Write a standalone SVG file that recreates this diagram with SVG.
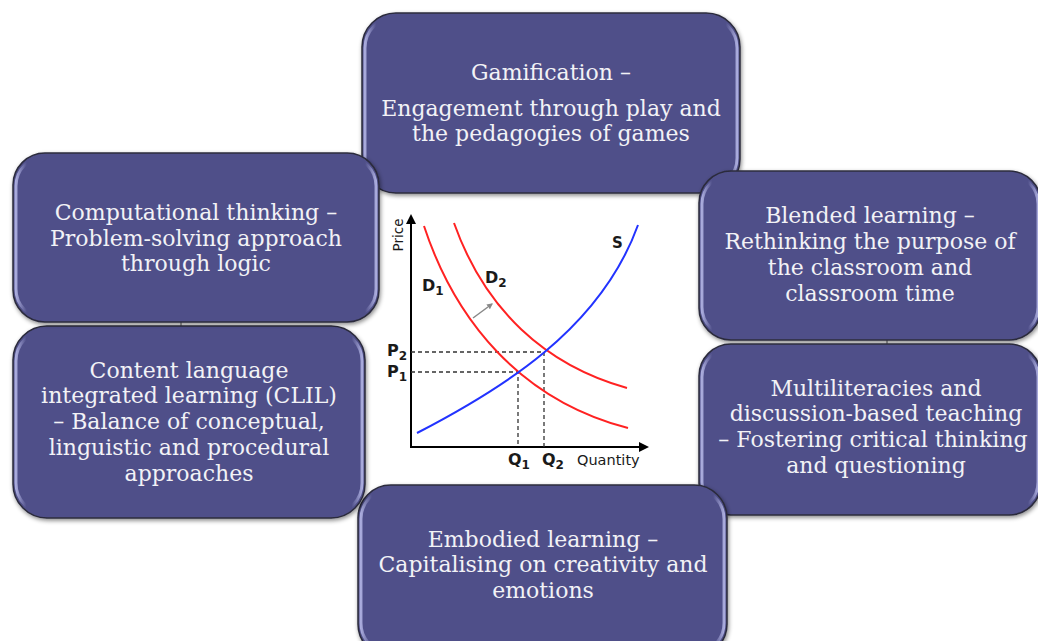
<svg xmlns="http://www.w3.org/2000/svg" width="1038" height="641" viewBox="0 0 1038 641">
<style>
.box{fill:#505089;stroke:#2b2b3c;stroke-width:1.5}
.bevel{fill:none;stroke:url(#bev);stroke-width:3}
.t{font-family:"DejaVu Serif","Liberation Serif",serif;font-size:22px;fill:#f2f2f6;text-anchor:middle}
.c{font-family:"DejaVu Sans","Liberation Sans",sans-serif;fill:#1a1a1a}
.ax{stroke:#000;stroke-width:2;fill:none}
.dash{stroke:#333;stroke-width:1.3;stroke-dasharray:4,3;fill:none}
.red{stroke:#f22;stroke-width:2;fill:none}
.blue{stroke:#2233ff;stroke-width:2;fill:none}
.conn{stroke:#555;stroke-width:1}
</style>
<defs>
<filter id="sh" x="-5%" y="-5%" width="112%" height="115%">
<feDropShadow dx="1" dy="2" stdDeviation="2" flood-color="#000" flood-opacity="0.45"/>
</filter>
<linearGradient id="bev" x1="0" y1="0" x2="1" y2="0">
<stop offset="0" stop-color="#b4b6e6" stop-opacity="0.9"/>
<stop offset="0.03" stop-color="#b4b6e6" stop-opacity="0"/>
<stop offset="0.97" stop-color="#b4b6e6" stop-opacity="0"/>
<stop offset="1" stop-color="#b4b6e6" stop-opacity="0.9"/>
</linearGradient>
<marker id="ah" viewBox="0 0 10 10" refX="8" refY="5" markerWidth="5" markerHeight="5" orient="auto">
<path d="M0,0 L10,5 L0,10 z" fill="#000"/>
</marker>
<marker id="gh" viewBox="0 0 10 10" refX="8" refY="5" markerWidth="4" markerHeight="4" orient="auto">
<path d="M0,0 L10,5 L0,10 z" fill="#888"/>
</marker>
</defs>
<rect width="1038" height="641" fill="#fff"/>

<g id="connectors">
<line class="conn" x1="181" y1="321" x2="181" y2="327"/>
<line class="conn" x1="887" y1="339" x2="887" y2="345"/>
</g>

<g id="chart">
<line class="ax" x1="411" y1="447" x2="411" y2="216" marker-end="url(#ah)"/>
<line class="ax" x1="410" y1="447" x2="647" y2="447" marker-end="url(#ah)"/>
<path class="dash" d="M411,352 H544 V447 M411,372 H518 V447"/>
<path class="red" d="M424,226 C455,320 520,400 628,428"/>
<path class="red" d="M454,223 C485,310 545,365 627,388"/>
<path class="blue" d="M417,433 C500,390 600,330 638,225"/>
<line x1="473" y1="318" x2="492" y2="304" stroke="#888" stroke-width="1.5" marker-end="url(#gh)"/>
<text class="c" font-size="13.5" transform="translate(403,235) rotate(-90)" text-anchor="middle" fill="#333">Price</text>
<text class="c" font-size="15" x="612" y="248" font-weight="600">S</text>
<text class="c" font-size="16" x="422" y="291" font-weight="600">D<tspan font-size="12" dy="4">1</tspan></text>
<text class="c" font-size="16" x="485" y="283" font-weight="600">D<tspan font-size="12" dy="4">2</tspan></text>
<text class="c" font-size="16" x="387" y="356" font-weight="600">P<tspan font-size="12" dy="4">2</tspan></text>
<text class="c" font-size="16" x="387" y="377" font-weight="600">P<tspan font-size="12" dy="4">1</tspan></text>
<text class="c" font-size="16" x="508" y="465" font-weight="600">Q<tspan font-size="12" dy="4">1</tspan></text>
<text class="c" font-size="16" x="542" y="465" font-weight="600">Q<tspan font-size="12" dy="4">2</tspan></text>
<text class="c" font-size="14.5" x="577" y="465" fill="#333">Quantity</text>
</g>

<g id="gamification">
<rect class="box" filter="url(#sh)" x="362" y="13" width="378" height="180" rx="34"/>
<rect class="bevel" x="365" y="17" width="372" height="172" rx="31"/>
<text class="t" x="551" y="80">Gamification –</text>
<text class="t" x="551" y="116">Engagement through play and</text>
<text class="t" x="551" y="141">the pedagogies of games</text>
</g>

<g id="blended">
<rect class="box" filter="url(#sh)" x="699" y="171" width="342" height="169" rx="32"/>
<rect class="bevel" x="702" y="175" width="336" height="161" rx="29"/>
<text class="t" x="870" y="223">Blended learning –</text>
<text class="t" x="870" y="249">Rethinking the purpose of</text>
<text class="t" x="870" y="275">the classroom and</text>
<text class="t" x="870" y="301">classroom time</text>
</g>

<g id="multiliteracies">
<rect class="box" filter="url(#sh)" x="699" y="344" width="342" height="171" rx="32"/>
<rect class="bevel" x="702" y="348" width="336" height="163" rx="29"/>
<text class="t" x="876" y="396">Multiliteracies and</text>
<text class="t" x="876" y="421">discussion-based teaching</text>
<text class="t" x="873" y="447">– Fostering critical thinking</text>
<text class="t" x="876" y="473">and questioning</text>
</g>

<g id="embodied">
<rect class="box" filter="url(#sh)" x="358" y="485" width="369" height="172" rx="33"/>
<rect class="bevel" x="361" y="489" width="363" height="164" rx="30"/>
<text class="t" x="543" y="547">Embodied learning –</text>
<text class="t" x="543" y="572">Capitalising on creativity and</text>
<text class="t" x="543" y="598">emotions</text>
</g>

<g id="clil">
<rect class="box" filter="url(#sh)" x="13" y="326" width="352" height="192" rx="34"/>
<rect class="bevel" x="16" y="330" width="346" height="184" rx="31"/>
<text class="t" x="189" y="378">Content language</text>
<text class="t" x="189" y="403">integrated learning (CLIL)</text>
<text class="t" x="189" y="429">– Balance of conceptual,</text>
<text class="t" x="189" y="455">linguistic and procedural</text>
<text class="t" x="189" y="481">approaches</text>
</g>

<g id="computational">
<rect class="box" filter="url(#sh)" x="13" y="153" width="366" height="169" rx="32"/>
<rect class="bevel" x="16" y="157" width="360" height="161" rx="29"/>
<text class="t" x="196" y="220">Computational thinking –</text>
<text class="t" x="196" y="246">Problem-solving approach</text>
<text class="t" x="196" y="271">through logic</text>
</g>
</svg>
